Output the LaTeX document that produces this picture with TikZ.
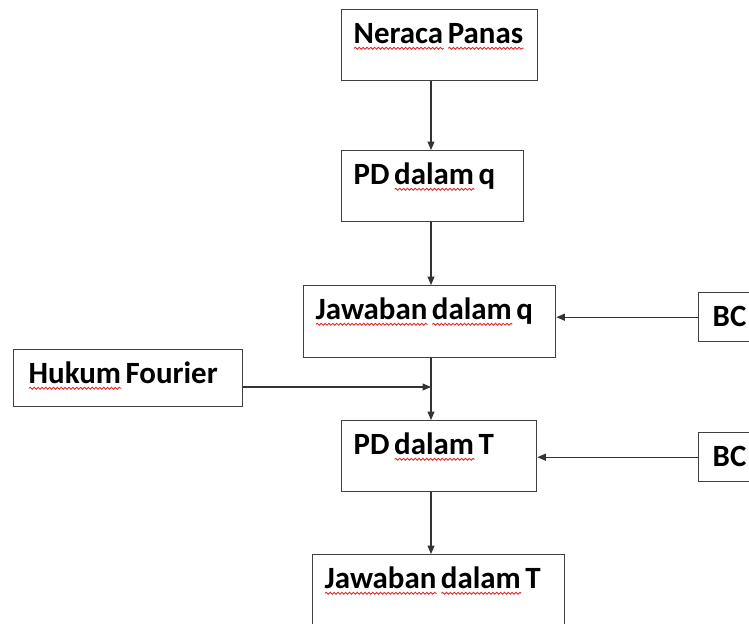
\documentclass[tikz,border=0pt]{standalone}
\usepackage{fontspec}
\setmainfont{Carlito}
\usetikzlibrary{arrows.meta,decorations.pathmorphing}
\definecolor{garismerah}{RGB}{225,40,40}
\newcommand{\hurufkotak}{\fontsize{17.6}{20}\selectfont\bfseries}
% wavy red line under a word, like a spell checker
\newsavebox{\kotakkata}
\newlength{\panjangkata}
\newcommand{\salah}[1]{\sbox{\kotakkata}{#1}\setlength{\panjangkata}{\wd\kotakkata}%
    \rlap{\tikz[baseline=0pt]\draw[garismerah, line width=0.5pt, decorate,
        decoration={snake, amplitude=0.55pt, segment length=2.2pt}]
        (0pt,-2.6pt) -- (\panjangkata,-2.6pt);}\usebox{\kotakkata}}

\begin{document}
\begin{tikzpicture}[
    x=0.02cm, y=-0.02cm,
    every node/.style={font=\hurufkotak},
    kotak/.style={draw=black!75, line width=0.8pt, anchor=north west,
        inner xsep=0.24cm, inner ysep=0pt, align=left, text height=0.68cm,
        execute at begin node={\spaceskip=2.6pt\relax}},
    panah/.style={-{Triangle[length=0.17cm,width=0.14cm]}, draw=black!80, line width=0.6pt}
]
    \useasboundingbox (0,0) rectangle (749,623);
    \clip (0,0) rectangle (749,623);
    \fill[white] (0,0) rectangle (749,623);

    % --- MAIN COLUMN ---
    \node[kotak, text width=3.44cm, text depth=0.74cm] (neraca) at (341,9) {\salah{Neraca} \salah{Panas}};
    \node[kotak, text width=3.16cm, text depth=0.74cm] (pdq) at (341,150) {PD \salah{dalam} q};
    \node[kotak, text width=4.56cm, text depth=0.76cm] (jawq) at (303,285) {\salah{Jawaban} \salah{dalam} q};
    \node[kotak, text width=3.42cm, text depth=0.74cm] (pdt) at (341,420) {PD \salah{dalam} T};
    \node[kotak, text width=4.56cm, text depth=1.00cm] (jawt) at (312,554) {\salah{Jawaban} \salah{dalam} T};

    % --- SIDE BOXES ---
    \node[kotak, text width=3.98cm, text depth=0.46cm, inner xsep=0.3cm] (hukum) at (13,349) {\salah{Hukum} Fourier};
    \node[kotak, text width=1.36cm, text depth=0.30cm, inner xsep=0.28cm] (bc1) at (698,292) {BC};
    \node[kotak, text width=1.36cm, text depth=0.30cm, inner xsep=0.28cm] (bc2) at (698,432) {BC};

    % --- ARROWS ---
    \coordinate (sumbu) at (431,0);   % x of the vertical line
    \coordinate (hf) at (242,387);    % height of the Fourier arrow

    \draw[panah] (neraca.south -| sumbu) -- (pdq.north -| sumbu);
    \draw[panah] (pdq.south -| sumbu) -- (jawq.north -| sumbu);
    \draw[panah] (jawq.south -| sumbu) -- (pdt.north -| sumbu);
    \draw[panah] (pdt.south -| sumbu) -- (jawt.north -| sumbu);

    \draw[panah] (hukum.east |- hf) -- (hf -| sumbu);
    \draw[panah] (bc1.west) -- (bc1.west -| jawq.east);
    \draw[panah] (bc2.west) -- (bc2.west -| pdt.east);

\end{tikzpicture}
\end{document}
